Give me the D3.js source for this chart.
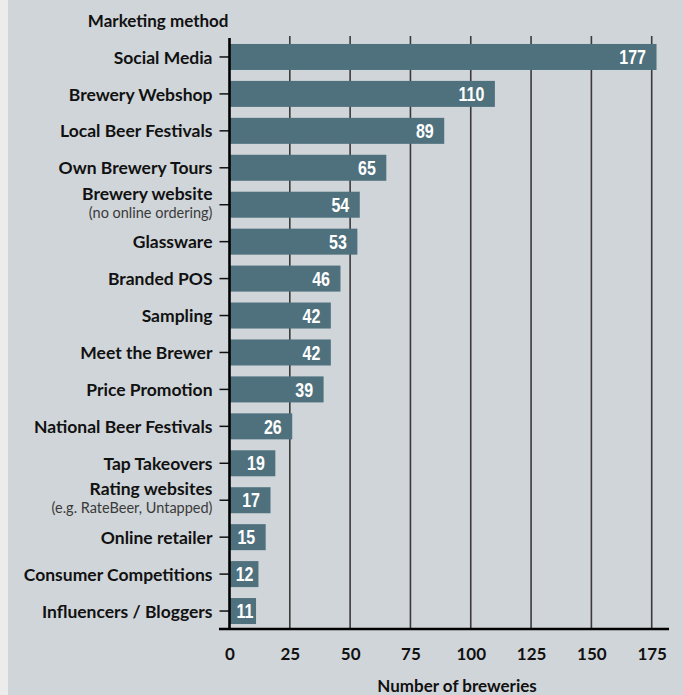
<!DOCTYPE html>
<html>
<head>
<meta charset="utf-8">
<script src="https://cdn.jsdelivr.net/npm/d3@7/dist/d3.min.js"></script>
<style>
  html, body { margin: 0; padding: 0; background: #ececec; }
  svg { display: block; }
</style>
</head>
<body>
<script>
// Marketing methods used by breweries (top to bottom)
const methods = [
  "Social Media", "Brewery Webshop", "Local Beer Festivals", "Own Brewery Tours",
  "Brewery website", "Glassware", "Branded POS", "Sampling", "Meet the Brewer",
  "Price Promotion", "National Beer Festivals", "Tap Takeovers", "Rating websites",
  "Online retailer", "Consumer Competitions", "Influencers / Bloggers"
];
const breweries = [177, 110, 89, 65, 54, 53, 46, 42, 42, 39, 26, 19, 17, 15, 12, 11];
// Second, smaller line under some method names
const notes = {
  "Brewery website": "(no online ordering)",
  "Rating websites": "(e.g. RateBeer, Untapped)"
};
const xTicks = [0, 25, 50, 75, 100, 125, 150, 175];
const yTitle = "Marketing method";
const xTitle = "Number of breweries";

const data = methods.map((m, i) => ({ method: m, value: breweries[i] }));

const W = 683, H = 695;
const svg = d3.select("body").append("svg").attr("width", W).attr("height", H);

// panel background
svg.append("rect").attr("x", 8).attr("y", 0).attr("width", W - 8).attr("height", H)
  .attr("fill", "#d0d5d9");

const x = d3.scaleLinear().domain([0, 175]).range([229.5, 651.7]);
const y = d3.scaleBand().domain(methods).range([38.5, 629.5])
  .paddingInner(0.296).paddingOuter(0.148);

const labelFont = "Lato, 'Noto Sans', sans-serif";
const valueFont = "'Liberation Sans', Arial, sans-serif";

// vertical gridlines
svg.append("g").selectAll("line").data(xTicks.filter(t => t > 0)).join("line")
  .attr("x1", d => x(d)).attr("x2", d => x(d))
  .attr("y1", 36).attr("y2", 629)
  .attr("stroke", "#3a3a3a").attr("stroke-width", 1.6);

// bars
svg.append("g").selectAll("rect").data(data).join("rect")
  .attr("x", x(0)).attr("y", d => y(d.method))
  .attr("width", d => x(d.value) - x(0)).attr("height", y.bandwidth())
  .attr("fill", "#4f717e");

// value labels inside bars (horizontally condensed)
svg.append("g").selectAll("text").data(data).join("text")
  .attr("transform", d =>
    `translate(${Math.max(x(d.value) - 10.5, x(0) + 24)},${y(d.method) + y.bandwidth() / 2 + 7.2}) scale(0.8,1)`)
  .attr("text-anchor", "end")
  .attr("font-family", valueFont).attr("font-weight", "bold").attr("font-size", 20)
  .attr("fill", "#ffffff")
  .text(d => d.value);

// y axis with ticks
const yAxis = svg.append("g").attr("transform", `translate(${x(0)},0)`)
  .call(d3.axisLeft(y).tickSize(10).tickPadding(7).tickSizeOuter(0));
yAxis.select(".domain").remove();
yAxis.selectAll(".tick line").attr("stroke", "#111").attr("stroke-width", 1.5);
yAxis.selectAll(".tick text").remove();

// category labels (with optional note line)
const cat = svg.append("g").selectAll("g").data(data).join("g")
  .attr("transform", d => `translate(212.5,${y(d.method) + y.bandwidth() / 2})`);
cat.append("text")
  .attr("y", d => notes[d.method] ? -5 : 6.6)
  .attr("text-anchor", "end")
  .attr("font-family", labelFont).attr("font-weight", "bold").attr("font-size", 17.5)
  .attr("fill", "#111")
  .text(d => d.method);
cat.filter(d => notes[d.method]).append("text")
  .attr("y", 13)
  .attr("text-anchor", "end")
  .attr("font-family", labelFont).attr("font-size", 14.5)
  .attr("fill", "#3a3a3a")
  .text(d => notes[d.method]);

// zero line
svg.append("line").attr("x1", x(0)).attr("x2", x(0)).attr("y1", 38).attr("y2", 630)
  .attr("stroke", "#000").attr("stroke-width", 2.6);

// x axis
const xAxis = svg.append("g").attr("transform", "translate(0,629)")
  .call(d3.axisBottom(x).tickValues(xTicks).tickSize(0).tickPadding(19));
xAxis.select(".domain").remove();
xAxis.selectAll(".tick text")
  .attr("font-family", labelFont).attr("font-weight", "bold").attr("font-size", 17)
  .attr("fill", "#111");
svg.append("line").attr("x1", 219).attr("x2", 669).attr("y1", 629).attr("y2", 629)
  .attr("stroke", "#000").attr("stroke-width", 2.6);

// titles
svg.append("text").attr("x", 228.5).attr("y", 26.5).attr("text-anchor", "end")
  .attr("font-family", labelFont).attr("font-weight", "bold").attr("font-size", 17)
  .attr("fill", "#111").text(yTitle);
svg.append("text").attr("x", 457).attr("y", 692.3).attr("text-anchor", "middle")
  .attr("font-family", labelFont).attr("font-weight", "bold").attr("font-size", 17)
  .attr("fill", "#111").text(xTitle);
</script>
</body>
</html>
